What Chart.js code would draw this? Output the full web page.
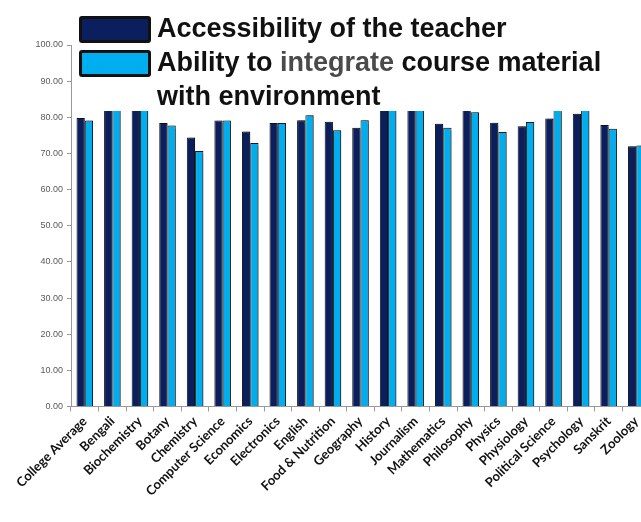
<!DOCTYPE html>
<html>
<head>
<meta charset="utf-8">
<script src="https://cdn.jsdelivr.net/npm/chart.js@4/dist/chart.umd.min.js"></script>
<style>
  html, body { margin: 0; padding: 0; background: #fff; overflow: hidden; }
  #wrap { position: relative; width: 652px; height: 522px; }
  #legendBox {
    position: absolute; left: 74px; top: 0; width: 578px; height: 111px;
    background: #fff;
  }
  .swatch {
    position: absolute; left: 5px; width: 66px; height: 21px;
    border: 3px solid #111; border-radius: 3px;
  }
  #legendText {
    position: absolute; left: 83px; top: 11px; width: 470px;
    font: bold 27px "Liberation Sans", Arial, sans-serif; line-height: 34px; color: #111;
  }
  #legendText .grey { color: #4a4a4a; }
</style>
</head>
<body>
<div id="wrap">
  <canvas id="scoreChart"></canvas>
  <div id="legendBox"></div>
</div>
<script>
// subjects along the x axis
let subjects = ['College Average', 'Bengali', 'Biochemistry', 'Botany', 'Chemistry',
  'Computer Science', 'Economics', 'Electronics', 'English', 'Food & Nutrition',
  'Geography', 'History', 'Journalism', 'Mathematics', 'Philosophy', 'Physics',
  'Physiology', 'Political Science', 'Psychology', 'Sanskrit', 'Zoology'];

let seriesNames = ['Accessibility of the teacher',
  'Ability to integrate course material with environment'];

// values (bars above ~82 are hidden behind the legend in the original)
let accessibility = [79.8, 83.5, 83.0, 78.4, 74.4, 79.1, 76.1, 78.4, 79.2, 78.8,
  77.1, 83.2, 83.4, 78.2, 82.5, 78.5, 77.5, 79.7, 81.0, 77.9, 72.0];
let integration = [79.1, 82.8, 82.6, 77.7, 70.7, 79.1, 72.9, 78.4, 80.6, 76.4,
  79.2, 82.9, 82.7, 77.1, 81.4, 75.9, 78.7, 82.4, 82.6, 76.8, 72.2];

let yTicks = [0, 10, 20, 30, 40, 50, 60, 70, 80, 90, 100];

let colors = ['#0b1f5e', '#00adef'];

// legend sits over the top of the plot with a white box
let legendBox = document.getElementById('legendBox');
seriesNames.forEach(function(name, i) {
  let sw = document.createElement('div');
  sw.className = 'swatch';
  sw.style.top = (16 + i * 33.5) + 'px';
  sw.style.background = colors[i];
  legendBox.appendChild(sw);
});
let txt = document.createElement('div');
txt.id = 'legendText';
txt.innerHTML = seriesNames[0] + '<br>' +
  seriesNames[1].replace('integrate', '<span class="grey">integrate</span>');
legendBox.appendChild(txt);

let shadowPlugin = {
  id: 'barShadow',
  beforeDatasetsDraw(chart) {
    let ctx = chart.ctx;
    ctx.save();
    ctx.shadowColor = 'rgba(0,0,0,0.35)';
    ctx.shadowOffsetX = 2;
    ctx.shadowOffsetY = 0;
    ctx.shadowBlur = 1;
  },
  afterDatasetsDraw(chart) {
    chart.ctx.restore();
  }
};

new Chart(document.getElementById('scoreChart'), {
  type: 'bar',
  data: {
    labels: subjects,
    datasets: [{
      label: seriesNames[0],
      data: accessibility,
      backgroundColor: colors[0],
      borderColor: '#111',
      borderWidth: 1,
      categoryPercentage: 0.6,
      barPercentage: 1
    }, {
      label: seriesNames[1],
      data: integration,
      backgroundColor: colors[1],
      borderColor: '#1a1a1a',
      borderWidth: 1,
      categoryPercentage: 0.6,
      barPercentage: 1
    }]
  },
  options: {
    responsive: true,
    maintainAspectRatio: false,
    animation: false,
    layout: { padding: { top: 45, right: 2, left: 0, bottom: 0 } },
    plugins: {
      legend: { display: false },
      tooltip: { enabled: false }
    },
    scales: {
      x: {
        grid: { display: true, drawOnChartArea: false, offset: true, color: '#999', tickLength: 5 },
        border: { color: '#999' },
        ticks: {
          autoSkip: false,
          maxRotation: 45,
          minRotation: 45,
          padding: 2,
          color: '#111',
          font: { family: 'Lato', weight: 'bold', size: 13 }
        },
        afterFit(scale) { scale.height = 115.5; }
      },
      y: {
        min: 0,
        max: 100,
        afterBuildTicks(scale) { scale.ticks = yTicks.map(v => ({ value: v })); },
        grid: { display: true, drawOnChartArea: false, color: '#999', tickLength: 4 },
        border: { color: '#999' },
        ticks: {
          padding: 4,
          color: '#5a5a5a',
          font: { family: 'Liberation Sans', size: 9 },
          callback: v => Number(v).toFixed(2)
        },
        afterFit(scale) { scale.width = 71; }
      }
    }
  },
  plugins: [shadowPlugin]
});
</script>
</body>
</html>
